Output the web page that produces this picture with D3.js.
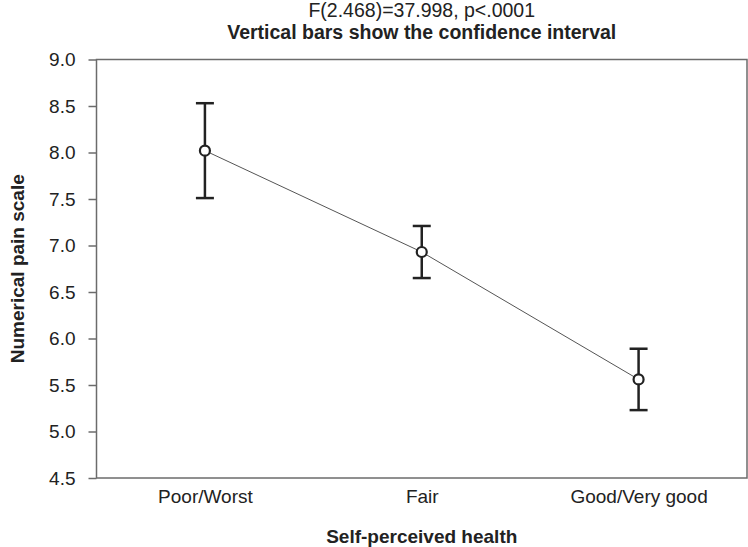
<!DOCTYPE html>
<html>
<head>
<meta charset="utf-8">
<script src="https://cdn.jsdelivr.net/npm/d3@7"></script>
<style>
  body { margin: 0; background: #fff; }
  text { font-family: "Liberation Sans", Arial, sans-serif; fill: #222; }
</style>
</head>
<body>
<script>
// data
var categories = ["Poor/Worst", "Fair", "Good/Very good"]
var means = [8.02, 6.93, 5.56]
var upper = [8.53, 7.21, 5.89]
var lower = [7.51, 6.65, 5.23]
var yTicks = [4.5, 5.0, 5.5, 6.0, 6.5, 7.0, 7.5, 8.0, 8.5, 9.0]

var W = 748, H = 547
var m = { left: 96.5, right: 1, top: 59.5, bottom: 69 }

var svg = d3.select("body").append("svg")
  .attr("width", W)
  .attr("height", H)

var x = d3.scalePoint()
  .domain(categories)
  .range([m.left, W - m.right])
  .padding(0.5)

var y = d3.scaleLinear()
  .domain([4.5, 9.0])
  .range([H - m.bottom, m.top])

// frame
svg.append("rect")
  .attr("x", m.left)
  .attr("y", m.top)
  .attr("width", W - m.right - m.left)
  .attr("height", H - m.bottom - m.top)
  .attr("fill", "none")
  .attr("stroke", "#6b6b6b")
  .attr("stroke-width", 1.5)

// y axis
var yAxis = d3.axisLeft(y)
  .tickValues(yTicks)
  .tickFormat(d3.format(".1f"))
  .tickSize(8)
  .tickPadding(13)

var gy = svg.append("g")
  .attr("transform", "translate(" + m.left + ",0)")
  .call(yAxis)
gy.select(".domain").remove()
gy.selectAll(".tick line").attr("stroke", "#6b6b6b").attr("stroke-width", 1.5)
gy.selectAll(".tick text")
  .attr("font-size", 19)
  .attr("font-family", "Liberation Sans, Arial, sans-serif")
  .attr("fill", "#222")

// x axis labels
var xAxis = d3.axisBottom(x).tickSize(0).tickPadding(12)
var gx = svg.append("g")
  .attr("transform", "translate(0," + (H - m.bottom) + ")")
  .call(xAxis)
gx.select(".domain").remove()
gx.selectAll(".tick text")
  .attr("font-size", 19)
  .attr("font-family", "Liberation Sans, Arial, sans-serif")
  .attr("fill", "#222")

// line through means
var line = d3.line()
  .x(function(d, i) { return x(categories[i]) })
  .y(function(d) { return y(d) })

svg.append("path")
  .datum(means)
  .attr("d", line)
  .attr("fill", "none")
  .attr("stroke", "#555")
  .attr("stroke-width", 1)

// error bars
var eb = svg.selectAll(".eb")
  .data(categories)
  .enter()
  .append("g")
  .attr("class", "eb")

eb.append("line")
  .attr("x1", function(d) { return x(d) })
  .attr("x2", function(d) { return x(d) })
  .attr("y1", function(d, i) { return y(upper[i]) })
  .attr("y2", function(d, i) { return y(lower[i]) })
  .attr("stroke", "#222")
  .attr("stroke-width", 2.5)

eb.append("line")
  .attr("x1", function(d) { return x(d) - 9 })
  .attr("x2", function(d) { return x(d) + 9 })
  .attr("y1", function(d, i) { return y(upper[i]) })
  .attr("y2", function(d, i) { return y(upper[i]) })
  .attr("stroke", "#222")
  .attr("stroke-width", 2.5)

eb.append("line")
  .attr("x1", function(d) { return x(d) - 9 })
  .attr("x2", function(d) { return x(d) + 9 })
  .attr("y1", function(d, i) { return y(lower[i]) })
  .attr("y2", function(d, i) { return y(lower[i]) })
  .attr("stroke", "#222")
  .attr("stroke-width", 2.5)

eb.append("circle")
  .attr("cx", function(d) { return x(d) })
  .attr("cy", function(d, i) { return y(means[i]) })
  .attr("r", 5)
  .attr("fill", "#fff")
  .attr("stroke", "#222")
  .attr("stroke-width", 2.2)

// titles
var cx = (m.left + W - m.right) / 2

svg.append("text")
  .attr("x", cx)
  .attr("y", 16.5)
  .attr("text-anchor", "middle")
  .attr("font-size", 19.5)
  .text("F(2.468)=37.998, p<.0001")

svg.append("text")
  .attr("x", cx)
  .attr("y", 39)
  .attr("text-anchor", "middle")
  .attr("font-size", 19.5)
  .attr("font-weight", "bold")
  .text("Vertical bars show the confidence interval")

svg.append("text")
  .attr("x", cx)
  .attr("y", 543)
  .attr("text-anchor", "middle")
  .attr("font-size", 19)
  .attr("font-weight", "bold")
  .text("Self-perceived health")

svg.append("text")
  .attr("transform", "translate(24," + ((m.top + H - m.bottom) / 2) + ") rotate(-90)")
  .attr("text-anchor", "middle")
  .attr("font-size", 19)
  .attr("font-weight", "bold")
  .text("Numerical pain scale")
</script>
</body>
</html>
